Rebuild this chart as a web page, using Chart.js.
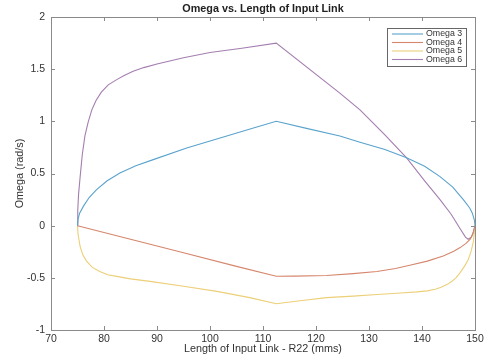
<!DOCTYPE html>
<html>
<head>
<meta charset="utf-8">
<script src="https://cdn.jsdelivr.net/npm/chart.js@4/dist/chart.umd.min.js"></script>
<style>
  html, body { margin: 0; padding: 0; background: #fff; }
  #wrap { width: 488px; height: 358px; position: relative; }
</style>
</head>
<body>
<div id="wrap"><canvas id="omegaChart"></canvas></div>
<script>
// series labels
var seriesNames = ['Omega 3', 'Omega 4', 'Omega 5', 'Omega 6'];

// Omega 3
var omega3X = [75, 75.1, 75.4, 76.1, 77.2, 78.6, 80.6, 83.0, 86, 89.3, 95.6, 101.9, 108.2, 112.5,
  118, 124.5, 128.3, 133, 137.1, 140.5, 143.4, 145.8, 147.8, 149.0, 149.5, 149.9, 150];
var omega3Y = [0, 0.06, 0.12, 0.185, 0.27, 0.345, 0.43, 0.505, 0.575, 0.633, 0.745, 0.84, 0.937, 1.0,
  0.935, 0.86, 0.80, 0.73, 0.65, 0.57, 0.47, 0.37, 0.25, 0.17, 0.12, 0.05, 0];

// Omega 4
var omega4X = [75, 85, 95, 105, 112.5, 116, 122, 127, 131.5, 135, 137.7, 141, 144, 146, 147.2, 148.3, 149.1, 149.6, 150];
var omega4Y = [0, -0.13, -0.26, -0.39, -0.485, -0.484, -0.478, -0.46, -0.44, -0.41, -0.38, -0.34, -0.29, -0.245,
  -0.21, -0.17, -0.13, -0.08, 0];

// Omega 5
var omega5X = [75, 75.1, 75.5, 76.0, 76.7, 77.8, 79.2, 80.7, 82.4, 85, 88.7, 95, 101.3, 107.5, 112.5,
  117, 122, 127, 131.5, 136, 139, 141, 142.5, 143.6, 144.7, 145.6, 146.4, 147.2, 148, 148.7, 149.3, 149.7, 150];
var omega5Y = [0, -0.08, -0.2, -0.28, -0.34, -0.4, -0.44, -0.47, -0.486, -0.51, -0.534, -0.58, -0.63, -0.69, -0.748,
  -0.72, -0.69, -0.675, -0.66, -0.645, -0.635, -0.625, -0.61, -0.59, -0.565, -0.535, -0.5, -0.45, -0.39, -0.33,
  -0.24, -0.15, 0];

// Omega 6
var omega6X = [75, 75.05, 75.2, 75.5, 75.9, 76.4, 77.0, 77.7, 78.5, 79.5, 80.8, 82.4, 83.8, 85.5, 87.5, 90, 95, 100,
  106, 112.5, 124.5, 128.3, 133, 137.1, 140.5, 143.4, 145.5, 147.2, 148.2, 148.7, 149.3, 149.7, 150];
var omega6Y = [0, 0.15, 0.3, 0.47, 0.68, 0.86, 0.99, 1.11, 1.2, 1.28, 1.35, 1.40, 1.44, 1.48, 1.515, 1.55, 1.61, 1.66,
  1.70, 1.75, 1.27, 1.11, 0.87, 0.65, 0.43, 0.25, 0.11, -0.03, -0.11, -0.13, -0.11, -0.06, 0];

var xTicks = [70, 80, 90, 100, 110, 120, 130, 140, 150];
var yTicks = [-1, -0.5, 0, 0.5, 1, 1.5, 2];

var lineColors = ['#5aa3cc', '#d6866c', '#eccf78', '#a47eb0'];

function toPoints(xs, ys) {
  return xs.map(function (x, i) { return { x: x, y: ys[i] }; });
}

var allX = [omega3X, omega4X, omega5X, omega6X];
var allY = [omega3Y, omega4Y, omega5Y, omega6Y];

var datasets = seriesNames.map(function (name, i) {
  return {
    label: name,
    data: toPoints(allX[i], allY[i]),
    borderColor: lineColors[i],
    backgroundColor: lineColors[i],
    borderWidth: 1.1,
    pointRadius: 0,
    showLine: true,
    tension: 0
  };
});

var FONT = '"Liberation Sans", Arial, sans-serif';

// frame, inward ticks, title, axis labels and legend, drawn MATLAB style
var matlabDecor = {
  id: 'matlabDecor',
  afterDraw: function (chart) {
    var ctx = chart.ctx;
    var a = chart.chartArea;
    var xs = chart.scales.x, ys = chart.scales.y;
    ctx.save();
    ctx.strokeStyle = '#8a8a8a';
    ctx.lineWidth = 1;
    ctx.strokeRect(Math.round(a.left) + 0.5, Math.round(a.top) + 0.5,
      Math.round(a.right - a.left), Math.round(a.bottom - a.top));
    ctx.beginPath();
    xTicks.forEach(function (v) {
      var px = Math.round(xs.getPixelForValue(v)) + 0.5;
      ctx.moveTo(px, a.bottom); ctx.lineTo(px, a.bottom - 4);
      ctx.moveTo(px, a.top); ctx.lineTo(px, a.top + 4);
    });
    yTicks.forEach(function (v) {
      var py = Math.round(ys.getPixelForValue(v)) + 0.5;
      ctx.moveTo(a.left, py); ctx.lineTo(a.left + 4, py);
      ctx.moveTo(a.right, py); ctx.lineTo(a.right - 4, py);
    });
    ctx.stroke();

    var cx = (a.left + a.right) / 2;
    ctx.fillStyle = '#222';
    ctx.textAlign = 'center';
    ctx.textBaseline = 'middle';
    ctx.font = 'bold 10.8px ' + FONT;
    ctx.fillText('Omega vs. Length of Input Link', cx, 9);

    ctx.fillStyle = '#333';
    ctx.font = '10.8px ' + FONT;
    ctx.fillText('Length of Input Link - R22 (mms)', cx, 349);

    ctx.save();
    ctx.translate(20, (a.top + a.bottom) / 2);
    ctx.rotate(-Math.PI / 2);
    ctx.fillText('Omega (rad/s)', 0, 0);
    ctx.restore();

    // legend box
    var lx = 387, ly = 28, lw = 79, lh = 38;
    ctx.fillStyle = '#fff';
    ctx.fillRect(lx, ly, lw, lh);
    ctx.strokeStyle = '#666';
    ctx.lineWidth = 1;
    ctx.strokeRect(lx + 0.5, ly + 0.5, lw, lh);
    ctx.font = '8.8px ' + FONT;
    ctx.textAlign = 'left';
    chart.data.datasets.forEach(function (ds, i) {
      var ry = ly + 6 + i * 8.5;
      ctx.strokeStyle = ds.borderColor;
      ctx.lineWidth = 1.1;
      ctx.beginPath();
      ctx.moveTo(lx + 5, ry); ctx.lineTo(lx + 36, ry);
      ctx.stroke();
      ctx.fillStyle = '#333';
      ctx.fillText(ds.label, lx + 39, ry);
    });
    ctx.restore();
  }
};

function plainLabel(value) { return String(value); }

var ctx = document.getElementById('omegaChart').getContext('2d');
var omegaChart = new Chart(ctx, {
  type: 'scatter',
  data: { datasets: datasets },
  options: {
    responsive: true,
    maintainAspectRatio: false,
    animation: false,
    layout: { padding: { top: 17, right: 13, left: 0, bottom: 0 } },
    plugins: {
      legend: { display: false },
      title: { display: false },
      tooltip: { enabled: false }
    },
    scales: {
      x: {
        type: 'linear',
        min: 70,
        max: 150,
        afterBuildTicks: function (scale) {
          scale.ticks = xTicks.map(function (v) { return { value: v }; });
        },
        ticks: { color: '#333', font: { size: 10.5, family: FONT }, padding: 3, maxRotation: 0, callback: plainLabel },
        grid: { display: false, drawTicks: false, tickLength: 0 },
        border: { display: false },
        afterFit: function (scale) { scale.height = 28; }
      },
      y: {
        type: 'linear',
        min: -1,
        max: 2,
        afterBuildTicks: function (scale) {
          scale.ticks = yTicks.map(function (v) { return { value: v }; });
        },
        ticks: { color: '#333', font: { size: 10.5, family: FONT }, padding: 6, callback: plainLabel },
        grid: { display: false, drawTicks: false, tickLength: 0 },
        border: { display: false },
        afterFit: function (scale) { scale.width = 51; }
      }
    }
  },
  plugins: [matlabDecor]
});
</script>
</body>
</html>
